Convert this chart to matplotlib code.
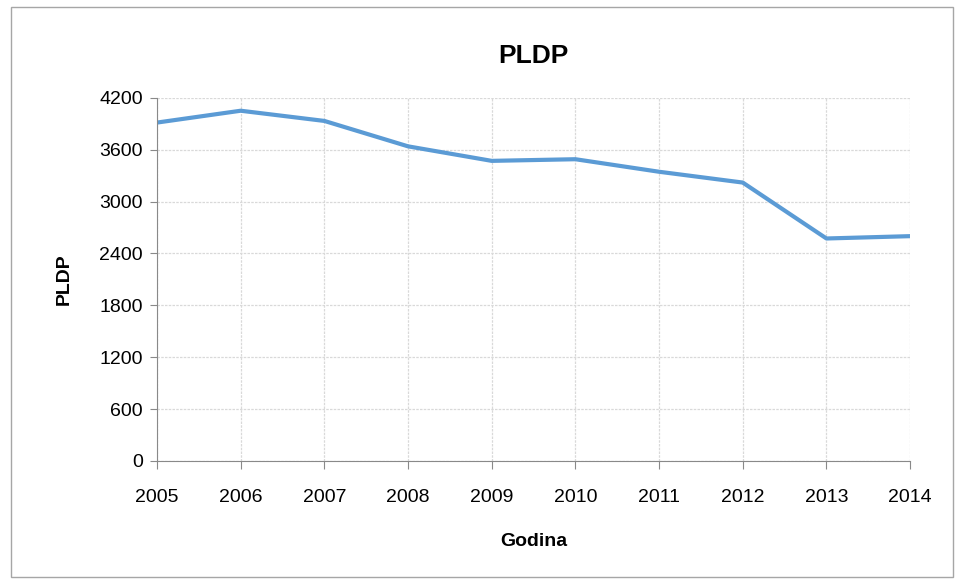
import matplotlib
matplotlib.use('Agg')
import matplotlib.pyplot as plt
from matplotlib.patches import Rectangle

years = ['2005', '2006', '2007', '2008', '2009', '2010', '2011', '2012', '2013', '2014']
pldp = [3914, 4051, 3933, 3639, 3471, 3490, 3345, 3220, 2573, 2600]
yticks = [0, 600, 1200, 1800, 2400, 3000, 3600, 4200]

plt.rcParams['font.family'] = ['Liberation Sans Narrow', 'Liberation Sans', 'DejaVu Sans']

fig = plt.figure(figsize=(9.55, 5.79), dpi=100)
ax = fig.add_axes([0.1644, 0.204, 0.7886, 0.627])

x = list(range(len(years)))
ax.plot(x, pldp, color='#5B9BD5', linewidth=3, solid_capstyle='round')

ax.set_xlim(0, len(years) - 1)
ax.set_ylim(0, 4200)
ax.set_xticks(x)
ax.set_xticklabels(years, fontsize=14)
ax.set_yticks(yticks)
ax.set_yticklabels([str(v) for v in yticks], fontsize=14)

ax.grid(True, color='#D9D9D9', linestyle=(0, (2, 1)), linewidth=0.9)
ax.set_axisbelow(True)
for s in ['top', 'right']:
    ax.spines[s].set_visible(False)
for s in ['left', 'bottom']:
    ax.spines[s].set_color('#898989')
ax.tick_params(axis='x', direction='out', length=6, color='#898989', pad=14)
ax.tick_params(axis='y', direction='out', length=5, color='#898989', pad=5)

ax.set_title('PLDP', fontsize=19, fontweight='bold', pad=25)
ax.set_xlabel('Godina', fontsize=14, fontweight='bold', labelpad=20)
ax.set_ylabel('PLDP', fontsize=14, fontweight='bold', labelpad=19)

fig.patches.append(Rectangle((11 / 955, 2 / 579), 942 / 955, 570 / 579,
                             transform=fig.transFigure, fill=False,
                             edgecolor='#A6A6A6', linewidth=1))

fig.savefig('out.png', dpi=100)
